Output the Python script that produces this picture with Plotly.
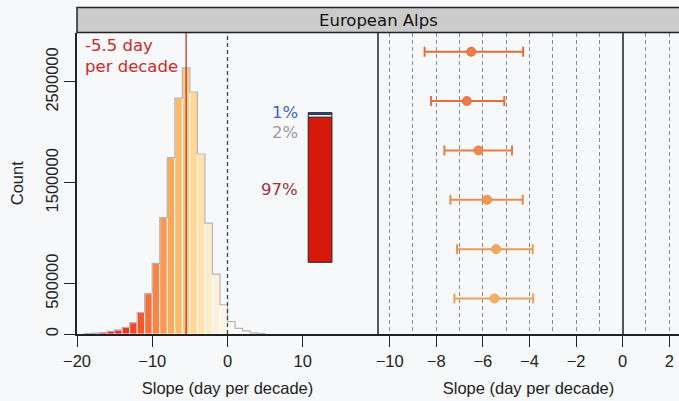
import plotly.graph_objects as go

# ---------------- data ----------------
REGION = "European Alps"
BIN_LEFT = [-19, -18, -17, -16, -15, -14, -13, -12, -11, -10, -9, -8, -7, -6,
            -5, -4, -3, -2, -1, 0, 1, 2, 3, 4]
COUNTS = [4000, 8000, 15000, 27000, 40000, 66000, 112000, 213000, 400000, 700000,
          1155000, 1750000, 2340000, 2640000, 2400000, 1785000, 1100000, 594000,
          290000, 122000, 56000, 30000, 12000, 5000]
BIN_WIDTH = 1
MEAN_SLOPE = -5.5
SHARE_LABELS = ["97%", "2%", "1%"]
SHARE_VALUES = [97, 2, 1]

ROWS = [6, 5, 4, 3, 2, 1]
CENTER = [-6.50, -6.69, -6.19, -5.82, -5.43, -5.50]
LOWER = [-8.50, -8.22, -7.65, -7.39, -7.11, -7.22]
UPPER = [-4.27, -5.08, -4.75, -4.29, -3.86, -3.84]

X1_TICKS = [-20, -10, 0, 10]
X2_TICKS = [-10, -8, -6, -4, -2, 0, 2]
Y_TICKS = [0, 500000, 1500000, 2500000]
Y_TICKTEXT = ["0", "500000", "1500000", "2500000"]

# ---------------- style ----------------
W, H = 679, 401
BG = "#f7f8fa"
BIN_COLORS = ["#ee1010", "#ef1411", "#f01913", "#f01f17", "#f1271b", "#f2331f",
              "#f34426", "#f5582e", "#f76e38", "#f98444", "#fa9750", "#fba95c",
              "#fcbb6c", "#fdc980", "#fed696", "#fee2b0", "#feebc8", "#fdf1dc",
              "#fcf5ea", "#fdfdfd", "#fdfdfd", "#fdfdfd", "#fdfdfd", "#fdfdfd"]
SHARE_COLORS = ["#d8180c", "#f2f2f2", "#3a5fbf"]
SHARE_TEXT_COLORS = ["#a3313a", "#9a9a9a", "#3d63c4"]
ROW_COLORS = ["#ef7a45", "#f07d48", "#f1894d", "#f29a55", "#f4aa5e", "#f5b063"]
ROW_LINE = ["#e46c3a", "#e4703e", "#e57c44", "#e68d4c", "#e89c54", "#e9a35a"]

FONT_AX = "Liberation Sans, Arial, sans-serif"
FONT_TXT = "DejaVu Sans, Verdana, sans-serif"
FS = 16.5

def px_x(p):
    return p / W

def px_y(p):
    return 1 - p / H

LEFT, MID, RIGHT = 77, 378, 679
TOP, BOTTOM = 32.5, 334
STRIP_TOP = 7.5

BAR_X = 12.3
BAR_W = 3.15
BAR_BASE = 711000
BAR_FULL = 1484000  # height for 100 %

fig = go.Figure()

# histogram bars
centers = [b + BIN_WIDTH / 2 for b in BIN_LEFT]
fig.add_trace(go.Bar(x=centers, y=COUNTS, width=BIN_WIDTH,
                     marker=dict(color=BIN_COLORS, line=dict(color="rgba(255,255,255,0.85)", width=1)),
                     xaxis="x", yaxis="y", hoverinfo="skip"))

# envelope
env_x = [BIN_LEFT[0]] + BIN_LEFT + [BIN_LEFT[-1] + BIN_WIDTH]
env_y = [0] + COUNTS + [0]
fig.add_trace(go.Scatter(x=env_x, y=env_y, mode="lines", line_shape="hv",
                         line=dict(color="#b4b4b4", width=1.2),
                         xaxis="x", yaxis="y", hoverinfo="skip"))

# stacked share bar
base = BAR_BASE
mids = []
for val, col in zip(SHARE_VALUES, SHARE_COLORS):
    h = BAR_FULL * val / 100
    fig.add_trace(go.Bar(x=[BAR_X], y=[h], base=[base], width=BAR_W,
                         marker=dict(color=col, line=dict(color="#222222", width=1)),
                         xaxis="x", yaxis="y", hoverinfo="skip"))
    mids.append(base + h / 2)
    base += h
label_offsets = [0, -170000, 10000]
for lab, m, off, c in zip(SHARE_LABELS, mids, label_offsets, SHARE_TEXT_COLORS):
    fig.add_annotation(x=9.65, y=m + off, xref="x", yref="y", text=lab,
                       showarrow=False, xanchor="right", yanchor="middle",
                       font=dict(family=FONT_TXT, size=FS, color=c))

# mean text
fig.add_annotation(x=-19.25, y=1, xref="x", yref="y domain",
                   text=f"{MEAN_SLOPE:g} day<br>per decade", showarrow=False,
                   xanchor="left", yanchor="top", align="left", yshift=-1,
                   font=dict(family=FONT_TXT, size=FS, color="#cc2a2a"))

# error bars
for r, c, lo, up, col, lc in zip(ROWS, CENTER, LOWER, UPPER, ROW_COLORS, ROW_LINE):
    fig.add_trace(go.Scatter(x=[c], y=[r], mode="markers",
                             marker=dict(size=9, color=col, line=dict(color=lc, width=1)),
                             error_x=dict(type="data", symmetric=False,
                                          array=[up - c], arrayminus=[c - lo],
                                          color=lc, thickness=2, width=5),
                             xaxis="x2", yaxis="y2", hoverinfo="skip"))

shapes = [
    dict(type="line", xref="x", yref="y domain", x0=MEAN_SLOPE, x1=MEAN_SLOPE, y0=0, y1=1,
         line=dict(color="#a81818", width=1.1)),
    dict(type="line", xref="x", yref="y domain", x0=0, x1=0, y0=0, y1=1,
         line=dict(color="#444444", width=1.3, dash="4px,3px")),
    dict(type="rect", xref="paper", yref="paper", x0=px_x(LEFT), x1=1.01,
         y0=px_y(TOP), y1=px_y(STRIP_TOP), fillcolor="#cbcbcb",
         line=dict(color="#222222", width=1.5), layer="above"),
    dict(type="line", xref="paper", yref="paper", x0=px_x(MID), x1=px_x(MID),
         y0=px_y(BOTTOM), y1=px_y(TOP), line=dict(color="#222222", width=1.5)),
]
fig.add_annotation(x=px_x((LEFT + RIGHT) / 2), y=px_y((TOP + STRIP_TOP) / 2),
                   xref="paper", yref="paper", text=REGION, showarrow=False,
                   xanchor="center", yanchor="middle",
                   font=dict(family=FONT_TXT, size=FS, color="#111111"))

axis_font = dict(family=FONT_AX, size=FS, color="#222222")
x2_lo = -10.5
x2_ppu = 23.3
x2_hi = x2_lo + (RIGHT - MID) / x2_ppu

fig.update_layout(
    width=W, height=H, margin=dict(l=0, r=0, t=0, b=0, autoexpand=False),
    paper_bgcolor=BG, plot_bgcolor=BG, showlegend=False, barmode="overlay",
    shapes=shapes,
    xaxis=dict(domain=[px_x(LEFT), px_x(MID)], range=[-20, 20], anchor="y",
               automargin=False,
               tickvals=X1_TICKS, ticks="outside", ticklen=11, tickcolor="#222222",
               showline=True, linecolor="#222222", linewidth=1.5, showgrid=False,
               zeroline=False, tickfont=axis_font,
               title=dict(text="Slope (day per decade)", font=axis_font, standoff=14)),
    yaxis=dict(domain=[px_y(BOTTOM), px_y(TOP)], range=[0, 2990000], anchor="x",
               automargin=False,
               tickvals=Y_TICKS, ticktext=Y_TICKTEXT, tickangle=-90,
               ticks="outside", ticklen=11, tickcolor="#222222",
               showline=True, linecolor="#222222", linewidth=1.5, showgrid=False,
               zeroline=False, tickfont=axis_font,
               title=dict(text="Count", font=axis_font, standoff=15)),
    xaxis2=dict(domain=[px_x(MID), 1.0], range=[x2_lo, x2_hi], anchor="y2",
                automargin=False,
                tickvals=X2_TICKS, ticks="outside", ticklen=11, tickcolor="#222222",
                showline=True, linecolor="#222222", linewidth=1.5,
                showgrid=True, gridcolor="#8a8a8a", gridwidth=1.2, griddash="4px,3px",
                minor=dict(dtick=1, tick0=0, showgrid=True, gridcolor="#8a8a8a",
                           gridwidth=1.2, griddash="4px,3px", ticks=""),
                zeroline=True, zerolinecolor="#555555", zerolinewidth=2,
                tickfont=axis_font,
                title=dict(text="Slope (day per decade)", font=axis_font, standoff=14)),
    yaxis2=dict(domain=[px_y(BOTTOM), px_y(TOP)], range=[0.28, 6.39], anchor="x2",
                automargin=False,
                showticklabels=False, ticks="", showgrid=False, zeroline=False,
                showline=False),
)

fig.write_html("out.html",
               config={"displayModeBar": False},
               post_script="document.body.style.margin='0';"
                           "document.body.style.overflow='hidden';"
                           f"document.body.style.background='{BG}';")
